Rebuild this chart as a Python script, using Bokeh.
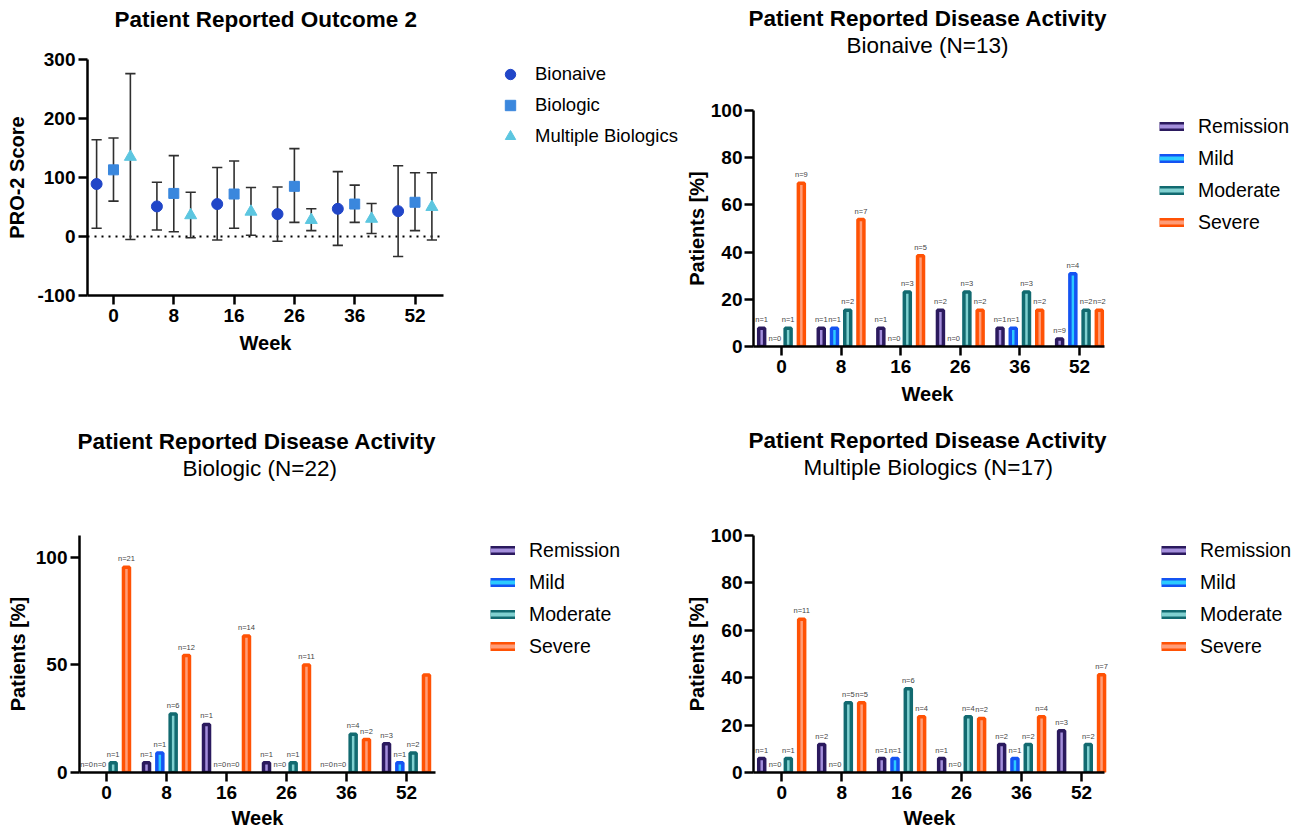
from bokeh.plotting import figure
from bokeh.models import (ColumnDataSource, Range1d, Legend, LegendItem, Title, FixedTicker)
from bokeh.transform import dodge
from bokeh.layouts import column, row
from bokeh.embed import file_html
from bokeh.resources import INLINE
from bokeh.core.properties import value

FONT = "Liberation Sans"

# ---------------- data ----------------
weeks = ["0", "8", "16", "26", "36", "52"]
week_pos = list(range(len(weeks)))          # categorical slot of each week on the x axis

# Panel 1: PRO-2 score, mean with error bars
pro_groups = ["Bionaive", "Biologic", "Multiple Biologics"]
bionaive_mean = [89, 51, 55, 38, 47, 43]
bionaive_upper = [164, 92, 117, 84, 110, 120]
bionaive_lower = [14, 11, -6, -8, -15, -34]
biologic_mean = [113, 73, 72, 85, 55, 58]
biologic_upper = [167, 137, 128, 149, 87, 108]
biologic_lower = [60, 8, 14, 24, 24, 10]
multi_mean = [135, 36, 42, 28, 30, 50]
multi_upper = [276, 75, 83, 47, 56, 108]
multi_lower = [-5, -2, 2, 10, 5, -6]
pro_ticks = [-100, 0, 100, 200, 300]

activity_levels = ["Remission", "Mild", "Moderate", "Severe"]

# Panel 2: Bionaive (N=13), % patients
bn_remission = [7.7, 7.7, 7.7, 15.4, 7.7, 3.2]
bn_mild = [0, 7.7, 0, 0, 7.7, 30.8]
bn_moderate = [7.7, 15.4, 23.1, 23.1, 23.1, 15.4]
bn_severe = [69.2, 53.8, 38.5, 15.4, 15.4, 15.4]
bn_remission_n = ["n=1", "n=1", "n=1", "n=2", "n=1", "n=9"]
bn_mild_n = ["n=0", "n=1", "n=0", "n=0", "n=1", "n=4"]
bn_moderate_n = ["n=1", "n=2", "n=3", "n=3", "n=3", "n=2"]
bn_severe_n = ["n=9", "n=7", "n=5", "n=2", "n=2", "n=2"]

# Panel 3: Biologic (N=22), % patients
bi_remission = [0, 4.5, 22.3, 4.5, 0, 13.4]
bi_mild = [0, 9.0, 0, 0, 0, 4.5]
bi_moderate = [4.5, 27.2, 0, 4.5, 17.8, 9.0]
bi_severe = [95.3, 54.3, 63.3, 49.9, 15.3, 45.3]
bi_remission_n = ["n=0", "n=1", "n=1", "n=1", "n=0", "n=3"]
bi_mild_n = ["n=0", "n=1", "n=0", "n=0", "n=0", "n=1"]
bi_moderate_n = ["n=1", "n=6", "n=0", "n=1", "n=4", "n=2"]
bi_severe_n = ["n=21", "n=12", "n=14", "n=11", "n=2", ""]

# Panel 4: Multiple Biologics (N=17), % patients
mb_remission = [5.9, 11.8, 5.9, 5.9, 11.8, 17.6]
mb_mild = [0, 0, 5.9, 0, 5.9, 0]
mb_moderate = [5.9, 29.4, 35.3, 23.5, 11.8, 11.8]
mb_severe = [64.7, 29.4, 23.5, 22.8, 23.5, 41.2]
mb_remission_n = ["n=1", "n=2", "n=1", "n=1", "n=2", "n=3"]
mb_mild_n = ["n=0", "n=0", "n=1", "n=0", "n=1", ""]
mb_moderate_n = ["n=1", "n=5", "n=6", "n=4", "n=2", "n=2"]
mb_severe_n = ["n=11", "n=5", "n=4", "n=2", "n=4", "n=7"]

# ---------------- styles ----------------
PRO_COLORS = ["#2146c8", "#3a87dd", "#5cc6e0"]
PRO_MARKERS = ["circle", "square", "triangle"]
PRO_SIZES = [11, 10, 12]
PRO_OFFSETS = [-0.28, 0.0, 0.28]

BAR_LINE = ["#2b1a5e", "#1453f2", "#126a70", "#ff5205"]
BAR_FILL = ["#a48fdc", "#2ccaff", "#80d0d0", "#ff9d78"]
BAR_OFFSETS = [-0.333, -0.111, 0.111, 0.333]


def style_axes(p, xbounds, ylabel_standoff, ylabel_pad, week_off, week_standoff):
    for ax in (p.xaxis[0], p.yaxis[0]):
        ax.axis_line_width = 2.5
        ax.axis_line_color = "black"
        ax.major_tick_line_width = 2.5
        ax.major_tick_line_color = "black"
        ax.major_tick_out = 9
        ax.major_tick_in = 0
        ax.minor_tick_line_color = None
        ax.major_label_text_font = FONT
        ax.major_label_text_font_size = "19px"
        ax.major_label_text_font_style = "bold"
        ax.major_label_text_color = "black"
        ax.axis_label_text_font = FONT
        ax.axis_label_text_font_size = "20px"
        ax.axis_label_text_font_style = "bold"
        ax.axis_label_text_color = "black"
    p.xaxis.ticker = FixedTicker(ticks=week_pos)
    p.xaxis.major_label_overrides = {i: w for i, w in zip(week_pos, weeks)}
    p.xaxis.bounds = xbounds
    p.xaxis.major_label_standoff = 4
    p.yaxis.major_label_standoff = ylabel_pad
    p.yaxis.axis_label_standoff = ylabel_standoff
    # x-axis title, centred under the drawn (bounded) part of the axis
    p.add_layout(Title(text="Week", align="left", offset=week_off, text_font=FONT,
                       text_font_size="20px", text_font_style="bold", text_color="black",
                       standoff=week_standoff), "below")
    p.xgrid.visible = False
    p.ygrid.visible = False
    p.outline_line_color = None
    p.background_fill_color = "white"
    p.border_fill_color = "white"


def add_titles(p, main, main_off, sub, sub_off, gap):
    # spacer between frame and titles, then subtitle, then bold title on top
    p.add_layout(Title(text=" ", text_font_size="1px", standoff=gap), "above")
    if sub is not None:
        p.add_layout(Title(text=sub, align="left", offset=sub_off, text_font=FONT,
                           text_font_size="22.5px", text_font_style="normal",
                           text_color="black", standoff=0), "above")
    p.add_layout(Title(text=main, align="left", offset=main_off, text_font=FONT,
                       text_font_size="22.5px", text_font_style="bold",
                       text_color="black", standoff=0), "above")


# ---------------- panel 1 ----------------
X1 = (-0.431, 9.436)
B1 = (-0.431, 5.47)
# frames of a row are aligned by Bokeh; this panel is lifted with a negative top margin
p1 = figure(width=682, height=418, x_range=Range1d(*X1), y_range=Range1d(-100, 300),
            output_backend="svg", toolbar_location=None, margin=(-51, 0, 0, 0),
            min_border_left=87, min_border_right=0, min_border_top=110, min_border_bottom=72)
style_axes(p1, B1, 6, 3, 152, 11)
p1.yaxis.axis_label = "PRO-2 Score"
p1.yaxis.ticker = FixedTicker(ticks=pro_ticks)
p1.yaxis.major_label_overrides = {t: str(t) for t in pro_ticks}
add_titles(p1, "Patient Reported Outcome 2", 27, None, 0, 25)
# dotted reference line at zero, across the axis extent
p1.segment(x0=[B1[0]], x1=[B1[1]], y0=[0], y1=[0], line_color="black", line_width=2,
           line_dash="2 5")

pro_means = [bionaive_mean, biologic_mean, multi_mean]
pro_uppers = [bionaive_upper, biologic_upper, multi_upper]
pro_lowers = [bionaive_lower, biologic_lower, multi_lower]
CAP = 0.085
pro_items = []
for i, name in enumerate(pro_groups):
    src = ColumnDataSource(dict(xi=week_pos, mean=pro_means[i], upper=pro_uppers[i],
                                lower=pro_lowers[i]))
    off = PRO_OFFSETS[i]
    p1.segment(x0=dodge("xi", off), x1=dodge("xi", off), y0="lower", y1="upper",
               line_color="#2f2f2f", line_width=1.6, source=src)
    for yk in ("upper", "lower"):
        p1.segment(x0=dodge("xi", off - CAP), x1=dodge("xi", off + CAP), y0=yk, y1=yk,
                   line_color="#2f2f2f", line_width=1.6, source=src)
    r = p1.scatter(x=dodge("xi", off), y="mean", marker=PRO_MARKERS[i], size=PRO_SIZES[i],
                   fill_color=PRO_COLORS[i], line_color=PRO_COLORS[i], source=src)
    pro_items.append(LegendItem(label=name, renderers=[r]))

leg1 = Legend(items=pro_items, location=(410, 146), glyph_width=26, glyph_height=26,
              label_height=26, spacing=5, label_standoff=12, padding=0, margin=0,
              border_line_color=None, background_fill_alpha=0,
              label_text_font=FONT, label_text_font_size="18.5px", label_text_color="black")
p1.add_layout(leg1)


# ---------------- bar panels ----------------
def bar_panel(main, main_off, sub, sub_off, vals, labs, width, height, mbl, mbt, mbb,
              xr, xb, yend, yticks, ylabel_standoff, ylabel_pad, gap, leg_loc,
              week_off, week_standoff):
    p = figure(width=width, height=height, x_range=Range1d(*xr), y_range=Range1d(0, yend),
               output_backend="svg", toolbar_location=None,
               min_border_left=mbl, min_border_right=0, min_border_top=mbt,
               min_border_bottom=mbb)
    style_axes(p, xb, ylabel_standoff, ylabel_pad, week_off, week_standoff)
    p.yaxis.axis_label = "Patients [%]"
    p.yaxis.ticker = FixedTicker(ticks=yticks)
    add_titles(p, main, main_off, sub, sub_off, gap)
    items = []
    for j, level in enumerate(activity_levels):
        v = vals[j]
        src = ColumnDataSource(dict(xi=week_pos, pct=v, lab=labs[j],
                                    la=[0.0 if x == 0 else 1.0 for x in v]))
        x = dodge("xi", BAR_OFFSETS[j])
        p.vbar(x=x, top="pct", bottom=0, width=0.1, fill_color=BAR_FILL[j],
               line_color=BAR_LINE[j], line_width=3.5, line_alpha="la", source=src)
        p.text(x=x, y="pct", text="lab", text_font=value(FONT), text_font_size="7.5px",
               text_color="#444444", text_align="center", text_baseline="bottom",
               y_offset=-4, source=src)
        # legend swatch: dark outer band with a light inner band (kept outside the y range)
        outer = p.line(x=week_pos[:2], y=[-50, -50], line_color=BAR_LINE[j], line_width=9)
        inner = p.line(x=week_pos[:2], y=[-50, -50], line_color=BAR_FILL[j], line_width=4)
        items.append(LegendItem(label=level, renderers=[outer, inner]))
    leg = Legend(items=items, location=leg_loc, glyph_width=25, glyph_height=26,
                 label_height=26, spacing=6, label_standoff=14, padding=0, margin=0,
                 border_line_color=None, background_fill_alpha=0,
                 label_text_font=FONT, label_text_font_size="19.5px",
                 label_text_color="black")
    p.add_layout(leg)
    return p


p2 = bar_panel("Patient Reported Disease Activity", -5, "Bionaive (N=13)", 93,
               [bn_remission, bn_mild, bn_moderate, bn_severe],
               [bn_remission_n, bn_mild_n, bn_moderate_n, bn_severe_n],
               627, 418, 70, 110, 72, (-0.47, 8.86), (-0.47, 5.42),
               100, [0, 20, 40, 60, 80, 100], 0, 2, 50, (406, 111), 148, 11)
p3 = bar_panel("Patient Reported Disease Activity", -2, "Biologic (N=22)", 103,
               [bi_remission, bi_mild, bi_moderate, bi_severe],
               [bi_remission_n, bi_mild_n, bi_moderate_n, bi_severe_n],
               682, 417, 79, 117, 63, (-0.45, 9.6), (-0.45, 5.48),
               110, [0, 50, 100], 4, 3, 52, (411, 113), 152, 6)
p4 = bar_panel("Patient Reported Disease Activity", -5, "Multiple Biologics (N=17)", 50,
               [mb_remission, mb_mild, mb_moderate, mb_severe],
               [mb_remission_n, mb_mild_n, mb_moderate_n, mb_severe_n],
               627, 417, 70, 117, 63, (-0.47, 8.8), (-0.47, 5.38),
               100, [0, 20, 40, 60, 80, 100], 0, 2, 53, (408, 113), 150, 6)

layout = column(row(p1, p2, spacing=0), row(p3, p4, spacing=0), spacing=0)
open("out.html", "w").write(file_html(layout, INLINE))
